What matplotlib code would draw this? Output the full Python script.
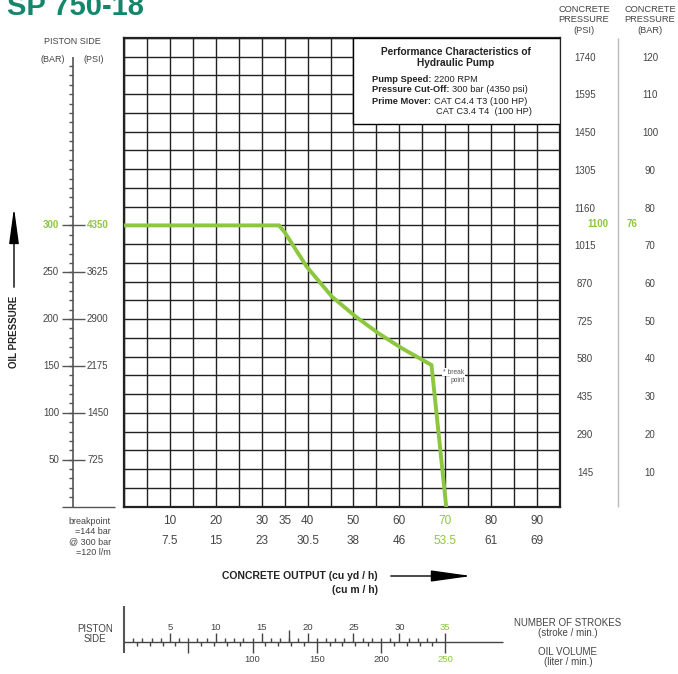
import matplotlib
matplotlib.use('Agg')
import matplotlib.pyplot as plt
from matplotlib.patches import Rectangle
from matplotlib.transforms import blended_transform_factory

plt.rcParams['font.family'] = ['Liberation Sans', 'DejaVu Sans']

W, H = 678, 674
GREEN = '#8dc63f'
GRAY = '#444444'

# performance curve: concrete output (cu yd/h) vs oil pressure (bar)
output_yd = [0, 33.8, 35.1, 39.8, 45.3, 50.4, 55.4, 60.5, 67.0, 70.2]
oil_bar = [300, 300, 292, 256, 224, 203, 185, 169, 151, 0]

# left scale (piston side)
left_bar = [50, 100, 150, 200, 250, 300]
left_psi = ['725', '1450', '2175', '2900', '3625', '4350']

# right scale (concrete pressure)
conc_bar = [10, 20, 30, 40, 50, 60, 70, 80, 90, 100, 110, 120]
conc_psi = ['145', '290', '435', '580', '725', '870', '1015', '1160',
            '1305', '1450', '1595', '1740']

# bottom axis
out_yd_ticks = [10, 20, 30, 35, 40, 50, 60, 70, 80, 90]
out_m3_pos = [10, 20, 30, 40, 50, 60, 70, 80, 90]
out_m3_lbl = ['7.5', '15', '23', '30.5', '38', '46', '53.5', '61', '69']

# piston side scale
stroke_lbl = [5, 10, 15, 20, 25, 30, 35]
oil_vol_lbl = [100, 150, 200, 250]


def ptext(px, py, s, **kw):
    kw.setdefault('color', GRAY)
    kw.setdefault('va', 'center')
    return fig.text(px / W, 1 - py / H, s, **kw)


fig = plt.figure(figsize=(W / 100, H / 100), dpi=100)
ax = fig.add_axes([124 / W, 1 - 506.5 / H, (560 - 124) / W, (506.5 - 38) / H])
ax.set_xlim(0, 95)
ax.set_ylim(0, 500)
ax.set_xticks(range(0, 96, 5))
ax.set_yticks(range(0, 501, 20))
ax.tick_params(length=0, labelbottom=False, labelleft=False)
ax.set_axisbelow(True)
ax.grid(True, color='#222222', lw=1.0)
for sp in ax.spines.values():
    sp.set_linewidth(1.6)
    sp.set_color('#222222')

# info box
ax.add_patch(Rectangle((50, 408), 45, 92, fc='white', ec='black', lw=1.0, zorder=3))

ax.plot(output_yd, oil_bar, color=GREEN, lw=2.8, zorder=4, solid_joinstyle='miter')

# title (cut off at the top edge as in the original)
ptext(7, 15, 'SP 750-18', fontsize=21, color='#13866b', va='baseline',
      fontweight='bold')

# info box text
ptext(456, 52, 'Performance Characteristics of', fontsize=7.3, fontweight='bold',
      color='#222222', ha='center')
ptext(456, 63, 'Hydraulic Pump', fontsize=7.3, fontweight='bold', color='#222222',
      ha='center')
rend = fig.canvas.get_renderer()
for py, b, r in [(79, 'Pump Speed: ', '2200 RPM'),
                 (90, 'Pressure Cut-Off: ', '300 bar (4350 psi)'),
                 (101, 'Prime Mover: ', 'CAT C4.4 T3 (100 HP)')]:
    t = ptext(372, py, b, fontsize=6.7, fontweight='bold', color='#222222')
    bb = t.get_window_extent(renderer=rend)
    ptext(bb.x1, py, r, fontsize=6.7, color='#222222')
ptext(436, 111, 'CAT C3.4 T4  (100 HP)', fontsize=6.7, color='#222222')

# left scale
bl = blended_transform_factory(fig.transFigure, ax.transData)
ax.vlines(73 / W, 0, 480, transform=bl, color='#555555', lw=1.2, clip_on=False)
ax.hlines(0, 62 / W, 115 / W, transform=bl, color='#555555', lw=1.0, clip_on=False)
ax.hlines(left_bar, 62 / W, 85 / W, transform=bl, color='#555555', lw=1.0, clip_on=False)
ax.hlines(range(10, 480, 10), 68.5 / W, 73 / W, transform=bl, color='#555555', lw=1.0,
          clip_on=False)
for b, p in zip(left_bar, left_psi):
    c = GREEN if b == 300 else GRAY
    w = 'bold' if b == 300 else 'normal'
    ax.text(59 / W, b, str(b), transform=bl, ha='right', va='center', fontsize=7,
            color=c, fontweight=w)
    ax.text(87 / W, b, p, transform=bl, ha='left', va='center', fontsize=7,
            color=c, fontweight=w)
ptext(72, 41, 'PISTON SIDE', fontsize=6.5, ha='center')
ptext(53, 60, '(BAR)', fontsize=6.5, ha='center')
ptext(94, 60, '(PSI)', fontsize=6.5, ha='center')
ptext(14, 332, 'OIL PRESSURE', fontsize=7, fontweight='bold', color='#222222',
      ha='center', rotation=90)
ax.annotate('', xy=(14 / W, 1 - 205 / H), xytext=(14 / W, 1 - 290 / H),
            xycoords='figure fraction',
            arrowprops=dict(arrowstyle='-|>,head_length=2.2,head_width=0.3',
                            mutation_scale=10, color='black', lw=1.0))

# right scale
ax2 = ax.twinx()
ax2.set_ylim(1.0, 125.2)
ax2.axis('off')
br = blended_transform_factory(fig.transFigure, ax2.transData)
for b, p in zip(conc_bar, conc_psi):
    ax2.text(585 / W, b, p, transform=br, ha='center', va='center', fontsize=7, color=GRAY)
    ax2.text(650 / W, b, str(b), transform=br, ha='center', va='center', fontsize=7,
             color=GRAY)
ax2.text(608 / W, 76, '1100', transform=br, ha='right', va='center', fontsize=7,
         color=GREEN, fontweight='bold')
ax2.text(627 / W, 76, '76', transform=br, ha='left', va='center', fontsize=7,
         color=GREEN, fontweight='bold')
ax.vlines(618 / W, 0, 500, transform=bl, color='#bbbbbb', lw=1.0, clip_on=False)
ptext(584, 20, 'CONCRETE\nPRESSURE\n(PSI)', fontsize=6.7, ha='center', linespacing=1.25)
ptext(650, 20, 'CONCRETE\nPRESSURE\n(BAR)', fontsize=6.7, ha='center', linespacing=1.25)

# break point note
ptext(443, 372, '* break', fontsize=4.8, color='#555555',
      bbox=dict(fc='white', ec='none', pad=0.5), zorder=6)
ptext(451, 380, 'point', fontsize=4.8, color='#555555',
      bbox=dict(fc='white', ec='none', pad=0.5), zorder=6)

# bottom labels
bt = blended_transform_factory(ax.transData, fig.transFigure)
for v in out_yd_ticks:
    ax.text(v, 1 - 521.5 / H, str(v), transform=bt, ha='center', va='center',
            fontsize=8.5, color=GREEN if v == 70 else GRAY)
for v, s in zip(out_m3_pos, out_m3_lbl):
    ax.text(v, 1 - 540.5 / H, s, transform=bt, ha='center', va='center',
            fontsize=8.5, color=GREEN if v == 70 else GRAY)
ptext(111, 537, 'breakpoint\n=144 bar\n@ 300 bar\n=120 l/m', fontsize=6.5, ha='right',
      linespacing=1.15)
ptext(378, 576, 'CONCRETE OUTPUT (cu yd / h)', fontsize=7.5, fontweight='bold',
      color='#222222', ha='right')
ptext(378, 590, '(cu m / h)', fontsize=7.5, fontweight='bold', color='#222222', ha='right')
ax.annotate('', xy=(474 / W, 1 - 576 / H), xytext=(388 / W, 1 - 576 / H),
            xycoords='figure fraction',
            arrowprops=dict(arrowstyle='-|>,head_length=2.5,head_width=0.35',
                            mutation_scale=10, color='black', lw=1.0))

# piston side scale (strokes above, oil volume below)
y0 = 1 - 642 / H
tick_kw = dict(transform=bt, color='#444444', lw=1.0, clip_on=False)
ax.vlines(0, 1 - 653 / H, 1 - 606 / H, transform=bt, color='#555555', lw=1.5, clip_on=False)
ax.hlines(y0, 0, 82.6, **tick_kw)
minor_strokes = [s * 2 for s in range(1, 36) if s % 5]
ax.vlines(minor_strokes, y0, y0 + 4 / H, **tick_kw)
ax.vlines([s * 2 for s in stroke_lbl], y0, y0 + 9 / H, **tick_kw)
ax.vlines(36, y0, y0 + 12 / H, **tick_kw)
minor_vol = [l * 0.28 for l in range(10, 251, 10) if l % 50]
ax.vlines(minor_vol, y0 - 4 / H, y0, **tick_kw)
ax.vlines([l * 0.28 for l in range(50, 251, 50)], y0 - 11 / H, y0, **tick_kw)
for s in stroke_lbl:
    ax.text(s * 2, 1 - 627 / H, str(s), transform=bt, ha='center', va='center',
            fontsize=6.8, color=GREEN if s == 35 else GRAY)
for l in oil_vol_lbl:
    ax.text(l * 0.28, 1 - 660 / H, str(l), transform=bt, ha='center', va='center',
            fontsize=6.8, color=GREEN if l == 250 else GRAY)
ptext(95, 634, 'PISTON\nSIDE', fontsize=7, ha='center', linespacing=1.0)
ptext(568, 628, 'NUMBER OF STROKES\n(stroke / min.)', fontsize=7, ha='center',
      linespacing=1.1)
ptext(568, 657, 'OIL VOLUME\n(liter / min.)', fontsize=7, ha='center', linespacing=1.1)

fig.savefig('out.png', dpi=100)
